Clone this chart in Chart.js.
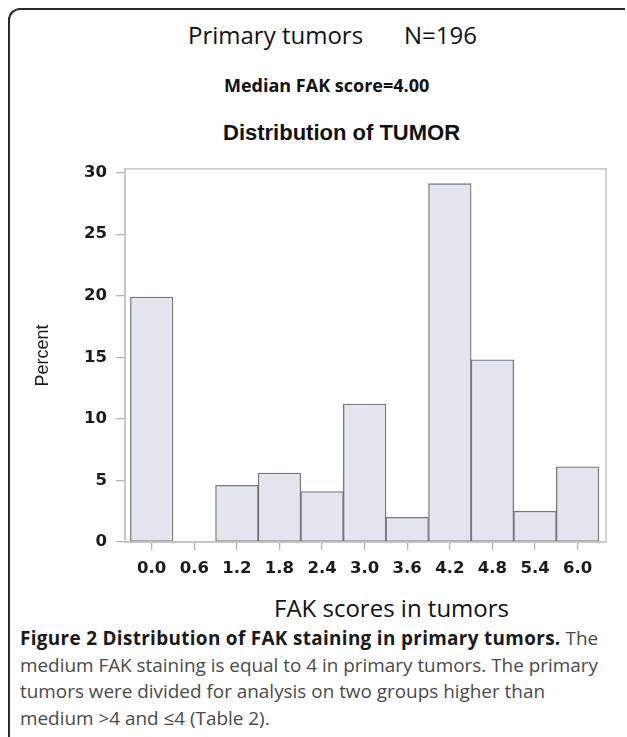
<!DOCTYPE html>
<html>
<head>
<meta charset="utf-8">
<script src="https://cdn.jsdelivr.net/npm/chart.js@4.4.0/dist/chart.umd.min.js"></script>
<style>
  html, body { margin: 0; padding: 0; background: #fff; width: 627px; height: 737px; overflow: hidden; }
  .frame { position: absolute; left: 8px; top: 8px; width: 615px; height: 800px;
           border-top: 2px solid #2b2b2b; border-left: 2px solid #2b2b2b; border-top-left-radius: 12px; }
  .txt { position: absolute; white-space: nowrap; line-height: 1; color: #111; }
  #chartBox { position: absolute; left: 0; top: 150px; width: 627px; height: 440px; }
  .caption { position: absolute; left: 20px; top: 625px; font-family: "Open Sans", sans-serif;
             font-size: 18.9px; line-height: 26.5px; color: #4a4a4a; white-space: nowrap; }
  .caption b { color: #1a1a1a; letter-spacing: 0.33px; }
</style>
</head>
<body>
<div class="frame"></div>
<div class="txt" style="left:188px; top:22.7px; font-family:'Open Sans'; font-size:24px;">Primary tumors</div>
<div class="txt" style="left:404px; top:22.7px; font-family:'Open Sans'; font-size:24px;">N=196</div>
<div class="txt" style="left:224px; top:76px; font-family:'Open Sans'; font-weight:bold; font-size:18px;">Median FAK score=4.00</div>
<div class="txt" style="left:223px; top:122.4px; font-family:'Liberation Sans'; font-weight:bold; font-size:22px;">Distribution of TUMOR</div>
<div id="chartBox"><canvas id="histChart"></canvas></div>
<div class="txt" style="left:274px; top:596px; font-family:'Open Sans'; font-size:24px;">FAK scores in tumors</div>
<div class="caption">
  <b>Figure 2 Distribution of FAK staining in primary tumors.</b> The<br>
  medium FAK staining is equal to 4 in primary tumors. The primary<br>
  tumors were divided for analysis on two groups higher than<br>
  medium &gt;4 and ≤4 (Table 2).
</div>
<script>
// histogram bins (FAK score) and percent of tumors in each
var scores = [0.0, 0.6, 1.2, 1.8, 2.4, 3.0, 3.6, 4.2, 4.8, 5.4, 6.0];
var percents = [19.9, 0, 4.6, 5.6, 4.1, 11.2, 2.0, 29.1, 14.8, 2.5, 6.1];
var yTicks = [0, 5, 10, 15, 20, 25, 30];

// light gray box round the plot area
var plotFrame = {
    id: 'plotFrame',
    afterDraw: function (chart) {
        var a = chart.chartArea;
        var ctx = chart.ctx;
        ctx.save();
        ctx.strokeStyle = '#c4c4c4';
        ctx.lineWidth = 1.5;
        ctx.strokeRect(a.left, a.top, a.right - a.left, a.bottom - a.top);
        ctx.restore();
    }
};

var ctx = document.getElementById('histChart').getContext('2d');
window.histChart = new Chart(ctx, {
    type: 'bar',
    data: {
        datasets: [{
            label: 'Percent',
            data: scores.map(function (s, i) { return { x: s, y: percents[i] }; }),
            backgroundColor: '#e3e6ef',
            borderColor: '#787878',
            borderWidth: 1.3,
            borderSkipped: false,
            categoryPercentage: 1,
            barPercentage: 1
        }]
    },
    options: {
        responsive: true,
        maintainAspectRatio: false,
        animation: false,
        layout: { padding: { left: 0, right: 21, top: 13, bottom: 0 } },
        plugins: { legend: { display: false }, tooltip: { enabled: false } },
        scales: {
            x: {
                type: 'linear',
                offset: false,
                min: -0.376,
                max: 6.4,
                afterBuildTicks: function (scale) {
                    scale.ticks = scores.map(function (v) { return { value: v }; });
                },
                afterFit: function (scale) { scale.height = 48; },
                grid: { offset: false, drawOnChartArea: false, color: '#b5b5b5', tickLength: 8, lineWidth: 1.3 },
                border: { display: true, color: '#c4c4c4', width: 1.5 },
                ticks: {
                    padding: 9,
                    color: '#1a1a1a',
                    font: { family: 'DejaVu Sans', weight: 'bold', size: 16.5 },
                    callback: function (value) { return Number(value).toFixed(1); }
                }
            },
            y: {
                min: 0,
                max: 30.3,
                afterBuildTicks: function (scale) {
                    scale.ticks = yTicks.map(function (v) { return { value: v }; });
                },
                afterFit: function (scale) { scale.width = 125; },
                grid: { drawOnChartArea: false, color: '#b5b5b5', tickLength: 9, lineWidth: 1.3 },
                border: { display: true, color: '#c4c4c4', width: 1.5 },
                ticks: {
                    padding: 9,
                    color: '#1a1a1a',
                    font: { family: 'DejaVu Sans', weight: 'bold', size: 16.5 }
                },
                title: {
                    display: true,
                    text: 'Percent',
                    color: '#1a1a1a',
                    padding: { top: 32, bottom: 0 },
                    font: { family: 'Liberation Sans', size: 18 }
                }
            }
        }
    },
    plugins: [plotFrame]
});
</script>
</body>
</html>
